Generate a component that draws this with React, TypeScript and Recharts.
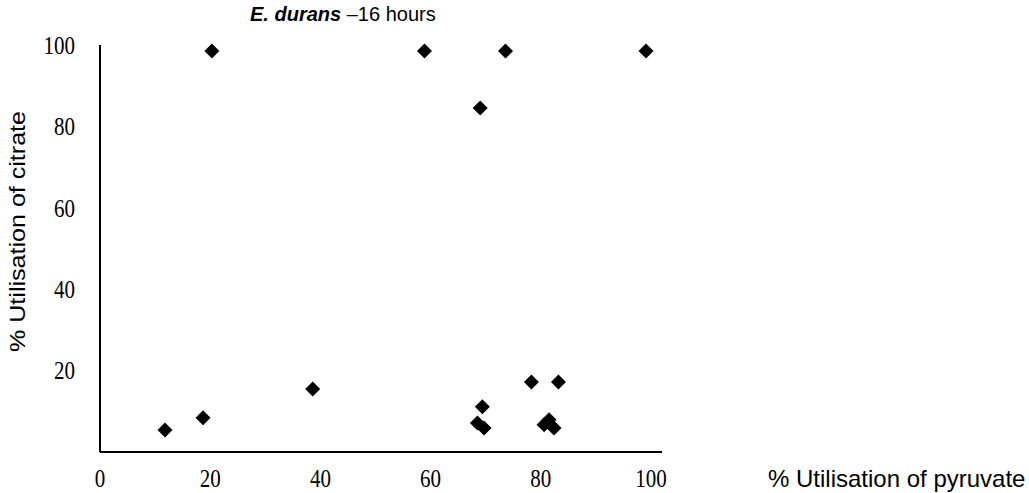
import { ScatterChart, Scatter, XAxis, YAxis } from "recharts";

// % utilisation of pyruvate (x) and citrate (y), E. durans at 16 h
const pyruvate = [20.3, 58.9, 73.6, 99.1, 69.0, 11.8, 18.7, 38.6, 78.3, 83.2, 69.4, 68.5, 69.7, 81.5, 80.6, 82.4];
const citrate = [98.5, 98.5, 98.5, 98.5, 84.5, 5.4, 8.4, 15.5, 17.2, 17.2, 11.1, 7.1, 5.9, 7.9, 6.7, 5.9];

const xTicks = [0, 20, 40, 60, 80, 100];
const yTicks = [20, 40, 60, 80, 100];

const points = pyruvate.map((x, i) => ({ x, y: citrate[i] }));

const serif = "'Liberation Serif', 'Times New Roman', serif";
const sans = "'Liberation Sans', Arial, sans-serif";

function Diamond(props: any) {
  const { cx, cy } = props;
  const r = 7.5;
  return (
    <path
      d={`M${cx},${cy - r}L${cx + r},${cy}L${cx},${cy + r}L${cx - r},${cy}Z`}
      fill="#000"
    />
  );
}

// tick labels in the original look vertically stretched
function Tick(props: any) {
  const { x, y, payload, textAnchor, shift = 0 } = props;
  return (
    <text
      transform={`translate(${x},${y + shift}) scale(1,1.22)`}
      textAnchor={textAnchor}
      dominantBaseline="central"
      fontFamily={serif}
      fontSize={21}
      fill="#000"
    >
      {payload.value}
    </text>
  );
}

function YTitle(props: any) {
  const { viewBox } = props;
  const cy = viewBox.y + viewBox.height / 2 - 17;
  return (
    <text
      transform={`translate(18,${cy}) rotate(-90) scale(1.14,1)`}
      textAnchor="middle"
      dominantBaseline="central"
      fontFamily={sans}
      fontSize={22}
      fill="#000"
    >
      % Utilisation of citrate
    </text>
  );
}

function XTitle(props: any) {
  const { viewBox } = props;
  return (
    <text
      x={viewBox.x + viewBox.width + 106}
      y={viewBox.y + 26}
      dominantBaseline="central"
      fontFamily={sans}
      fontSize={24}
      fill="#000"
    >
      % Utilisation of pyruvate
    </text>
  );
}

export default function App() {
  return (
    <div style={{ position: "absolute", left: 0, top: 0, width: 1029, height: 493, background: "#fff" }}>
      <div
        style={{
          position: "absolute",
          left: 250,
          top: 1,
          fontFamily: sans,
          fontSize: 20,
          lineHeight: "26px",
          whiteSpace: "nowrap",
        }}
      >
        <b>
          <i>E. durans</i>
        </b>{" "}
        –16 hours
      </div>
      <ScatterChart width={1029} height={493} margin={{ top: 45, right: 367, bottom: 0, left: 0 }}>
        <XAxis
          type="number"
          dataKey="x"
          domain={[0, 102]}
          ticks={xTicks}
          allowDataOverflow
          height={41}
          tickLine={false}
          tickSize={0}
          tickMargin={16}
          axisLine={{ stroke: "#000", strokeWidth: 2 }}
          tick={<Tick shift={10} />}
          label={<XTitle />}
        />
        <YAxis
          type="number"
          dataKey="y"
          domain={[0, 100]}
          ticks={yTicks}
          width={100}
          tickLine={false}
          tickSize={0}
          tickMargin={25}
          axisLine={{ stroke: "#000", strokeWidth: 2 }}
          tick={<Tick />}
          label={<YTitle />}
        />
        <Scatter data={points} shape={<Diamond />} isAnimationActive={false} />
      </ScatterChart>
    </div>
  );
}
